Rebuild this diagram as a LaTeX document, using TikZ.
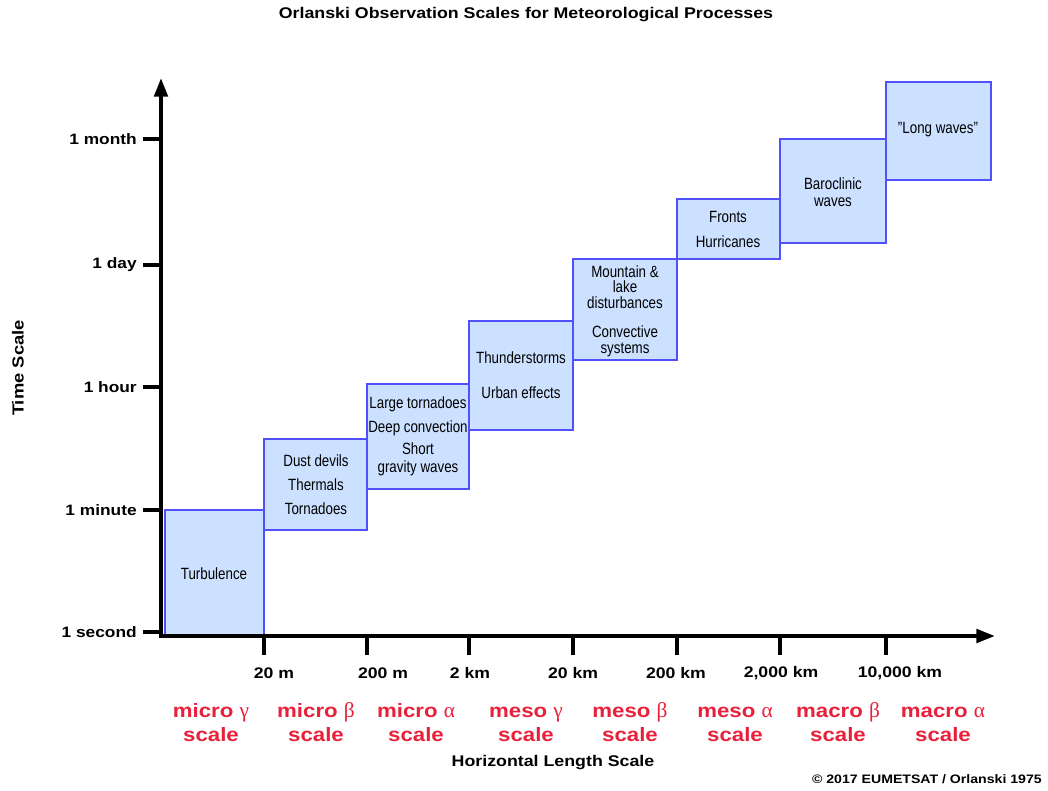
\documentclass[tikz,border=0pt]{standalone}
\usepackage{fontspec}
\setmainfont{Liberation Sans}[FakeStretch=0.82]
\newfontfamily\widesans{Liberation Sans}[FakeStretch=1.15]
\newfontfamily\greekfont{Liberation Serif}
\usetikzlibrary{arrows.meta}
\definecolor{boxfill}{HTML}{CCE0FF}
\definecolor{boxline}{HTML}{5050FF}
\definecolor{scalered}{HTML}{E8203A}
\newcommand{\gr}[1]{{\greekfont\mdseries\fontsize{16}{17.3}\selectfont #1}}
\begin{document}
\begin{tikzpicture}[x=0.75pt,y=-0.75pt,
  axis/.style={line width=3pt,-{Triangle[length=14pt,width=10pt]}},
  tick/.style={line width=2.8pt},
  box/.style={draw=boxline,fill=boxfill,line width=1.6pt},
  btext/.style={font=\fontsize{12.2}{12.5}\selectfont,align=center,inner sep=0pt},
  ylab/.style={font=\widesans\bfseries\fontsize{11.3}{13}\selectfont,anchor=east,inner sep=0pt},
  xlab/.style={font=\widesans\bfseries\fontsize{11.5}{13}\selectfont,inner sep=0pt},
  redlab/.style={font=\widesans\bfseries\fontsize{14.5}{17.3}\selectfont,text=scalered,align=center,inner sep=0pt,anchor=base}]
\useasboundingbox (0,0) rectangle (1048,790);
% title
\node[font=\widesans\bfseries\fontsize{11.6}{13}\selectfont] (title) at (526,15) {Orlanski Observation Scales for Meteorological Processes};
% boxes
\draw[box] (165,510) rectangle (264,636);
\draw[box] (264,439) rectangle (367,530);
\draw[box] (367,384) rectangle (469,489);
\draw[box] (469,321) rectangle (573,430);
\draw[box] (573,259) rectangle (677,360);
\draw[box] (677,199) rectangle (780,259);
\draw[box] (780,139) rectangle (886,243);
\draw[box] (886,82) rectangle (991,180);
% box texts
\node[btext] (t1) at (214,574) {Turbulence};
\node[btext] (t2a) at (316,461) {Dust devils};
\node[btext] (t2b) at (316,485) {Thermals};
\node[btext] (t2c) at (316,509) {Tornadoes};
\node[btext] (t3a) at (418,404) {Large tornadoes};
\node[btext] (t3b) at (418,428) {Deep convection};
\node[btext,align=center] (t3c) at (418,459) {Short\\[1pt]gravity waves};
\node[btext] (t4a) at (521,358) {Thunderstorms};
\node[btext] (t4b) at (521,393) {Urban effects};
\node[btext] (t5a) at (625,287) {Mountain \&\\[-1pt]lake\\[-1pt]disturbances};
\node[btext] (t5b) at (625,341) {Convective\\[-0.5pt]systems};
\node[btext] (t6a) at (728,217) {Fronts};
\node[btext] (t6b) at (728,242) {Hurricanes};
\node[btext] (t7) at (833,192) {Baroclinic\\waves};
\node[btext] (t8) at (938,130) {\symbol{34}Long waves\symbol{34}};
% axes
\coordinate (O) at (161,636);
\coordinate (ytip) at (161,78);
\coordinate (xtip) at (995,636);
\draw[axis] (161,637.5) -- (ytip);
\draw[axis] (159.5,636) -- (xtip);
% y ticks
\foreach \yy/\lab in {139/1 month,265/1 day,387/1 hour,510/1 minute,632/1 second}{
  \draw[tick] (143,\yy) -- (161,\yy);
  \node[ylab] at (137,\yy) {\lab};
}
% x ticks
\foreach \xx in {264,367,469,573,677,780,886}{
  \draw[tick] (\xx,636) -- (\xx,655);
}
\node[xlab] (x1) at (274,673) {20 m};
\node[xlab] (x2) at (383,673) {200 m};
\node[xlab] (x3) at (470,673) {2 km};
\node[xlab] (x4) at (573,673) {20 km};
\node[xlab] (x5) at (676,673) {200 km};
\node[xlab] (x6) at (781,673) {2,000 km};
\node[xlab] (x7) at (900,673) {10,000 km};
% red scale labels
\node[redlab] (s1) at (211,741) {micro \gr{γ}\\scale};
\node[redlab] (s2) at (316,741) {micro \gr{β}\\scale};
\node[redlab] (s3) at (416,741) {micro \gr{α}\\scale};
\node[redlab] (s4) at (526,741) {meso \gr{γ}\\scale};
\node[redlab] (s5) at (630,741) {meso \gr{β}\\scale};
\node[redlab] (s6) at (735,741) {meso \gr{α}\\scale};
\node[redlab] (s7) at (838,741) {macro \gr{β}\\scale};
\node[redlab] (s8) at (943,741) {macro \gr{α}\\scale};
% axis titles
\node[font=\widesans\bfseries\fontsize{11.6}{13}\selectfont] (xt) at (553,763) {Horizontal Length Scale};
\node[font=\widesans\bfseries\fontsize{12}{14}\selectfont,rotate=90] (yt) at (18,368) {Time Scale};
\node[font=\widesans\bfseries\fontsize{9.2}{10}\selectfont,anchor=east,inner sep=0pt] (copy) at (1042,779) {\textcopyright\ 2017 EUMETSAT / Orlanski 1975};
\end{tikzpicture}
\end{document}
